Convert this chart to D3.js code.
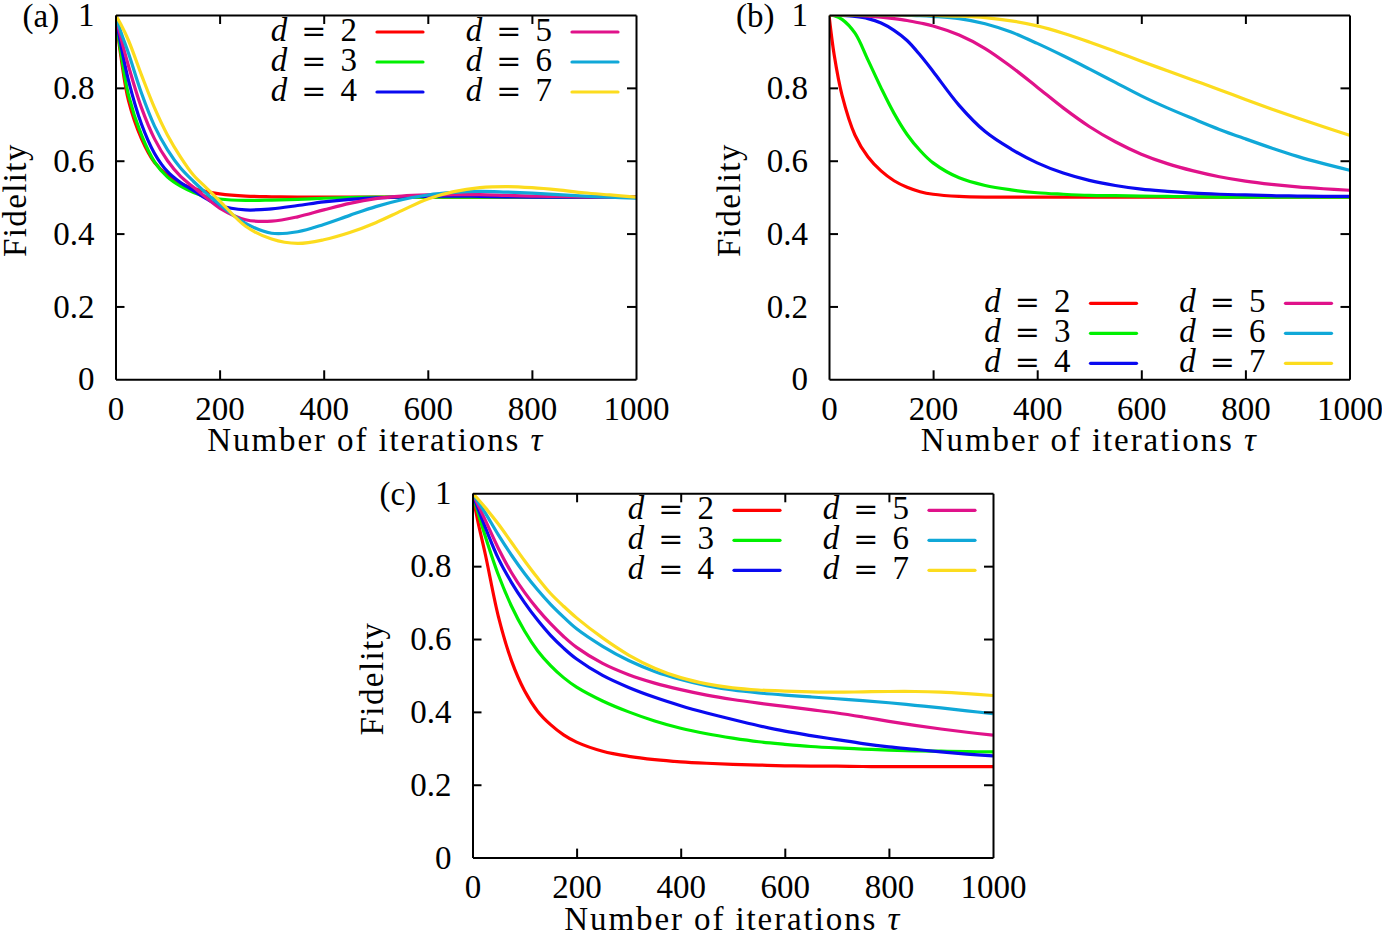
<!DOCTYPE html>
<html>
<head>
<meta charset="utf-8">
<script src="https://cdn.jsdelivr.net/npm/d3@7"></script>
<style>
  body { margin: 0; background: #fff; }
  svg { display: block; }
</style>
</head>
<body>
<script>
var iters = [0, 10, 25, 50, 75, 100, 125, 150, 175, 200, 250, 300, 350, 400, 450, 500, 550, 600, 650, 700, 750, 800, 850, 900, 950, 1000];
var dims = [2, 3, 4, 5, 6, 7];
var xTicks = [0, 200, 400, 600, 800, 1000];
var yTicks = [0, 0.2, 0.4, 0.6, 0.8, 1];
var yTickLabels = ["0", "0.2", "0.4", "0.6", "0.8", "1"];

// panel (a)
var aD2 = [1, 0.89, 0.765, 0.66, 0.595, 0.56, 0.538, 0.524, 0.515, 0.509, 0.503, 0.501, 0.5, 0.5, 0.5, 0.5, 0.5, 0.5, 0.5, 0.5, 0.5, 0.5, 0.5, 0.5, 0.5, 0.5];
var aD3 = [1, 0.9, 0.78, 0.67, 0.597, 0.555, 0.53, 0.513, 0.501, 0.495, 0.491, 0.492, 0.494, 0.497, 0.499, 0.5, 0.5, 0.5, 0.5, 0.5, 0.5, 0.5, 0.5, 0.5, 0.5, 0.5];
var aD4 = [1, 0.92, 0.82, 0.7, 0.62, 0.57, 0.54, 0.518, 0.495, 0.477, 0.465, 0.468, 0.477, 0.487, 0.494, 0.498, 0.501, 0.502, 0.503, 0.502, 0.501, 0.5, 0.5, 0.5, 0.5, 0.5];
var aD5 = [1, 0.94, 0.86, 0.745, 0.66, 0.6, 0.557, 0.527, 0.498, 0.47, 0.438, 0.434, 0.446, 0.465, 0.483, 0.496, 0.503, 0.506, 0.507, 0.507, 0.505, 0.503, 0.502, 0.501, 0.5, 0.5];
var aD6 = [1, 0.955, 0.895, 0.785, 0.695, 0.63, 0.58, 0.543, 0.51, 0.48, 0.428, 0.401, 0.405, 0.425, 0.45, 0.474, 0.493, 0.506, 0.513, 0.516, 0.514, 0.511, 0.507, 0.503, 0.5, 0.497];
var aD7 = [1, 0.975, 0.93, 0.835, 0.745, 0.67, 0.61, 0.56, 0.525, 0.49, 0.42, 0.385, 0.373, 0.383, 0.403, 0.43, 0.463, 0.495, 0.515, 0.526, 0.529, 0.526, 0.52, 0.512, 0.506, 0.5];

// panel (b)
var bD2 = [1, 0.89, 0.78, 0.67, 0.61, 0.572, 0.545, 0.527, 0.515, 0.508, 0.502, 0.5, 0.5, 0.5, 0.5, 0.5, 0.5, 0.5, 0.5, 0.5, 0.5, 0.5, 0.5, 0.5, 0.5, 0.5];
var bD3 = [1, 0.998, 0.988, 0.95, 0.876, 0.8, 0.73, 0.672, 0.628, 0.594, 0.553, 0.532, 0.52, 0.512, 0.508, 0.505, 0.504, 0.503, 0.502, 0.501, 0.5, 0.5, 0.5, 0.5, 0.5, 0.5];
var bD4 = [1, 1, 0.999, 0.996, 0.99, 0.978, 0.958, 0.93, 0.89, 0.845, 0.752, 0.68, 0.632, 0.594, 0.566, 0.546, 0.532, 0.522, 0.516, 0.511, 0.508, 0.506, 0.504, 0.503, 0.502, 0.502];
var bD5 = [1, 1, 1, 0.999, 0.997, 0.994, 0.99, 0.985, 0.978, 0.97, 0.945, 0.908, 0.858, 0.802, 0.745, 0.694, 0.652, 0.618, 0.592, 0.572, 0.556, 0.544, 0.535, 0.528, 0.523, 0.519];
var bD6 = [1, 1, 1, 1, 1, 1, 1, 0.999, 0.998, 0.996, 0.99, 0.976, 0.953, 0.922, 0.888, 0.852, 0.815, 0.778, 0.745, 0.715, 0.686, 0.66, 0.635, 0.612, 0.592, 0.574];
var bD7 = [1, 1, 1, 1, 1, 1, 1, 1, 1, 0.999, 0.997, 0.993, 0.984, 0.97, 0.95, 0.926, 0.9, 0.873, 0.847, 0.821, 0.795, 0.768, 0.742, 0.717, 0.693, 0.67];

// panel (c)
var cD2 = [1, 0.925, 0.83, 0.66, 0.54, 0.458, 0.402, 0.365, 0.337, 0.317, 0.292, 0.278, 0.269, 0.263, 0.259, 0.256, 0.254, 0.252, 0.251, 0.251, 0.25, 0.25, 0.25, 0.25, 0.25, 0.25];
var cD3 = [1, 0.95, 0.88, 0.775, 0.69, 0.622, 0.568, 0.527, 0.494, 0.468, 0.43, 0.4, 0.375, 0.355, 0.34, 0.328, 0.318, 0.311, 0.305, 0.301, 0.298, 0.295, 0.293, 0.292, 0.291, 0.29];
var cD4 = [1, 0.96, 0.905, 0.82, 0.755, 0.7, 0.652, 0.61, 0.575, 0.545, 0.5, 0.467, 0.44, 0.417, 0.397, 0.379, 0.362, 0.347, 0.335, 0.324, 0.313, 0.304, 0.297, 0.29, 0.284, 0.279];
var cD5 = [1, 0.97, 0.925, 0.848, 0.782, 0.728, 0.682, 0.642, 0.607, 0.577, 0.533, 0.502, 0.479, 0.461, 0.446, 0.434, 0.424, 0.415, 0.406, 0.397, 0.386, 0.374, 0.363, 0.353, 0.344, 0.336];
var cD6 = [1, 0.978, 0.945, 0.885, 0.83, 0.78, 0.735, 0.695, 0.66, 0.628, 0.58, 0.541, 0.511, 0.489, 0.472, 0.46, 0.452, 0.446, 0.441, 0.436, 0.431, 0.425, 0.418, 0.411, 0.403, 0.395];
var cD7 = [1, 0.985, 0.96, 0.915, 0.865, 0.815, 0.768, 0.725, 0.69, 0.658, 0.603, 0.556, 0.52, 0.494, 0.477, 0.466, 0.46, 0.457, 0.455, 0.454, 0.455, 0.456, 0.456, 0.454, 0.45, 0.445];

var colors = ["#ff0000", "#00f000", "#0a0af0", "#e0128a", "#10a8d8", "#fcdc1e"];
var serif = "'Liberation Serif', 'Times New Roman', serif";
var fs = 33;

var plotW = 520.5, plotH = 364.3;

var panels = [
  { tag: "(a)", left: 115.5, top: 15, series: [aD2, aD3, aD4, aD5, aD6, aD7], legendAtTop: true },
  { tag: "(b)", left: 829, top: 15, series: [bD2, bD3, bD4, bD5, bD6, bD7], legendAtTop: false },
  { tag: "(c)", left: 472.5, top: 493.3, series: [cD2, cD3, cD4, cD5, cD6, cD7], legendAtTop: true }
];

var svg = d3.select("body")
    .append("svg")
    .attr("width", 1382)
    .attr("height", 930);

panels.forEach(function(p, pi){
  var g = svg.append("g")
      .attr("transform", "translate(" + p.left + "," + p.top + ")");

  var x = d3.scaleLinear().domain([0, 1000]).range([0, plotW]);
  var y = d3.scaleLinear().domain([0, 1]).range([plotH, 0]);

  // clip for the curves
  g.append("clipPath").attr("id", "clip" + pi)
    .append("rect").attr("width", plotW).attr("height", plotH);

  var line = d3.line()
      .x(function(d, i){ return x(iters[i]); })
      .y(function(d){ return y(d); })
      .curve(d3.curveCatmullRom.alpha(0.5));

  var curves = g.append("g").attr("clip-path", "url(#clip" + pi + ")");
  p.series.forEach(function(s, si){
    curves.append("path")
      .attr("d", line(s))
      .attr("fill", "none")
      .attr("stroke", colors[si])
      .attr("stroke-width", 3.2)
      .attr("stroke-linejoin", "round");
  });

  // four axes, ticks pointing inward
  var xb = g.append("g").attr("transform", "translate(0," + plotH + ")")
      .call(d3.axisBottom(x).tickValues(xTicks).tickSize(-9).tickSizeOuter(0).tickPadding(17)
        .tickFormat(function(d){ return String(d); }));
  var xt = g.append("g")
      .call(d3.axisTop(x).tickValues(xTicks).tickSize(-9).tickSizeOuter(0).tickFormat(""));
  var yl = g.append("g")
      .call(d3.axisLeft(y).tickValues(yTicks).tickSize(-9).tickSizeOuter(0).tickPadding(21)
        .tickFormat(function(d, i){ return yTickLabels[i]; }));
  var yr = g.append("g").attr("transform", "translate(" + plotW + ",0)")
      .call(d3.axisRight(y).tickValues(yTicks).tickSize(-9).tickSizeOuter(0).tickFormat(""));

  [xb, xt, yl, yr].forEach(function(ax){
    ax.attr("font-family", serif).attr("font-size", fs);
    ax.selectAll(".domain").attr("stroke", "#000").attr("stroke-width", 2);
    ax.selectAll(".tick line").attr("stroke", "#000").attr("stroke-width", 2);
    ax.selectAll(".tick text").attr("fill", "#000");
  });
  // drop the edge ticks that sit on the frame
  [xb, xt].forEach(function(ax){
    ax.selectAll(".tick line").filter(function(d){ return d === 0 || d === 1000; }).remove();
  });
  [yl, yr].forEach(function(ax){
    ax.selectAll(".tick line").filter(function(d){ return d === 0 || d === 1; }).remove();
  });

  // axis titles
  var xl = g.append("text")
      .attr("x", plotW / 2)
      .attr("y", plotH + 72)
      .attr("text-anchor", "middle")
      .attr("font-family", serif)
      .attr("font-size", fs)
      .attr("letter-spacing", 1.9);
  xl.append("tspan").text("Number of iterations ");
  xl.append("tspan").attr("font-style", "italic").text("τ");

  g.append("text")
    .attr("transform", "translate(-89.5," + (plotH / 2 + 3) + ") rotate(-90)")
    .attr("text-anchor", "middle")
    .attr("font-family", serif)
    .attr("font-size", fs)
    .attr("letter-spacing", 1.4)
    .text("Fidelity");

  g.append("text")
    .attr("x", -93)
    .attr("y", 12)
    .attr("font-family", serif)
    .attr("font-size", fs)
    .text(p.tag);

  // key, two columns of three
  var rowsY = p.legendAtTop ? [17, 47, 77] : [plotH - 76, plotH - 46, plotH - 16];
  var colStart = [plotW - 259, plotW - 64];
  dims.forEach(function(dv, k){
    var col = Math.floor(k / 3), row = k % 3;
    var lx = colStart[col], ly = rowsY[row];
    g.append("line")
      .attr("x1", lx).attr("x2", lx + 46)
      .attr("y1", ly).attr("y2", ly)
      .attr("stroke", colors[k])
      .attr("stroke-width", 3.2)
      .attr("stroke-linecap", "round");
    var t = g.append("text")
      .attr("x", lx - 20)
      .attr("y", ly + 9)
      .attr("text-anchor", "end")
      .attr("font-family", serif)
      .attr("font-size", fs);
    t.append("tspan").attr("font-style", "italic").text("d");
    t.append("tspan").attr("dx", 14).attr("font-family", "'DejaVu Serif', serif").attr("font-size", 30).text("=");
    t.append("tspan").attr("dx", 14).text(String(dv));
  });
});
</script>
</body>
</html>
